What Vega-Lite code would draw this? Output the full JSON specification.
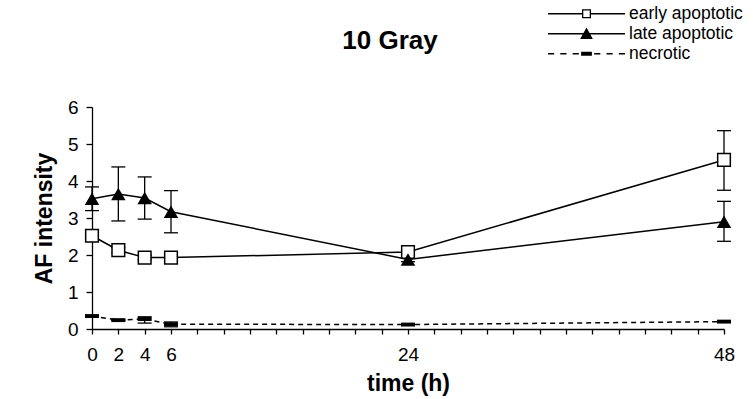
{
  "$schema": "https://vega.github.io/schema/vega-lite/v6.json",
  "width": 632,
  "height": 222,
  "autosize": "none",
  "padding": {"left": 92, "top": 107, "right": 29, "bottom": 70},
  "background": "white",
  "config": {
    "view": {"stroke": null},
    "font": "Liberation Sans",
    "axis": {
      "domainColor": "black",
      "domainWidth": 1.3,
      "tickColor": "black",
      "tickWidth": 1.3,
      "grid": false,
      "labelFont": "Liberation Sans",
      "labelFontSize": 19,
      "labelColor": "black",
      "labelFlush": false,
      "labelOverlap": false,
      "titleFont": "Liberation Sans",
      "titleFontSize": 23,
      "titleFontWeight": "bold",
      "titleColor": "black"
    },
    "axisY": {"tickSize": 6, "labelPadding": 8, "titlePadding": 11},
    "axisX": {"tickSize": 5, "labelPadding": 11, "titlePadding": 8}
  },
  "title": {
    "text": "10 Gray",
    "font": "Liberation Sans",
    "fontSize": 26,
    "fontWeight": "bold",
    "color": "black",
    "anchor": "middle",
    "frame": "group",
    "offset": -50,
    "dx": -18
  },
  "data": {
    "values": [
      {"series": "early apoptotic", "t": 0, "mean": 2.52, "lo": 2.45, "hi": 2.6},
      {"series": "early apoptotic", "t": 2, "mean": 2.13, "lo": 2.06, "hi": 2.2},
      {"series": "early apoptotic", "t": 4, "mean": 1.93, "lo": 1.87, "hi": 2.0},
      {"series": "early apoptotic", "t": 6, "mean": 1.93, "lo": 1.87, "hi": 2.0},
      {"series": "early apoptotic", "t": 24, "mean": 2.08, "lo": 1.98, "hi": 2.18},
      {"series": "early apoptotic", "t": 48, "mean": 4.57, "lo": 3.75, "hi": 5.36},
      {"series": "late apoptotic", "t": 0, "mean": 3.52, "lo": 3.2, "hi": 3.84},
      {"series": "late apoptotic", "t": 2, "mean": 3.65, "lo": 2.92, "hi": 4.38},
      {"series": "late apoptotic", "t": 4, "mean": 3.54, "lo": 2.97, "hi": 4.11},
      {"series": "late apoptotic", "t": 6, "mean": 3.17, "lo": 2.6, "hi": 3.74},
      {"series": "late apoptotic", "t": 24, "mean": 1.88, "lo": 1.82, "hi": 1.94},
      {"series": "late apoptotic", "t": 48, "mean": 2.9, "lo": 2.37, "hi": 3.45},
      {"series": "necrotic", "t": 0, "mean": 0.35, "lo": 0.35, "hi": 0.35},
      {"series": "necrotic", "t": 2, "mean": 0.24, "lo": 0.24, "hi": 0.24},
      {"series": "necrotic", "t": 4, "mean": 0.27, "lo": 0.16, "hi": 0.33},
      {"series": "necrotic", "t": 6, "mean": 0.13, "lo": 0.06, "hi": 0.19},
      {"series": "necrotic", "t": 24, "mean": 0.12, "lo": 0.12, "hi": 0.12},
      {"series": "necrotic", "t": 48, "mean": 0.2, "lo": 0.2, "hi": 0.2}
    ]
  },
  "encoding": {
    "x": {
      "field": "t",
      "type": "quantitative",
      "title": "time (h)",
      "scale": {"domain": [0, 48], "nice": false, "zero": false},
      "axis": {
        "values": [0, 2, 4, 6, 8, 10, 12, 14, 16, 18, 20, 22, 24, 26, 28, 30, 32, 34, 36, 38, 40, 42, 44, 46, 48],
        "labelExpr": "indexof([0, 2, 4, 6, 24, 48], datum.value) >= 0 ? datum.label : ''"
      }
    }
  },
  "layer": [
    {
      "mark": {"type": "rule", "color": "black", "strokeWidth": 1.3},
      "encoding": {
        "y": {"field": "lo", "type": "quantitative", "title": "AF intensity", "scale": {"domain": [0, 6], "nice": false}, "axis": {"values": [0, 1, 2, 3, 4, 5, 6]}},
        "y2": {"field": "hi"}
      }
    },
    {
      "mark": {"type": "tick", "orient": "horizontal", "color": "black", "size": 14, "thickness": 1.3, "opacity": 1},
      "encoding": {
        "y": {"field": "lo", "type": "quantitative", "title": "AF intensity", "axis": {"values": [0, 1, 2, 3, 4, 5, 6]}}
      }
    },
    {
      "mark": {"type": "tick", "orient": "horizontal", "color": "black", "size": 14, "thickness": 1.3, "opacity": 1},
      "encoding": {
        "y": {"field": "hi", "type": "quantitative", "title": "AF intensity", "axis": {"values": [0, 1, 2, 3, 4, 5, 6]}}
      }
    },
    {
      "transform": [{"filter": "datum.series !== 'necrotic'"}],
      "mark": {"type": "line", "color": "black", "strokeWidth": 1.5},
      "encoding": {
        "y": {"field": "mean", "type": "quantitative", "title": "AF intensity", "axis": {"values": [0, 1, 2, 3, 4, 5, 6]}},
        "detail": {"field": "series"}
      }
    },
    {
      "transform": [{"filter": "datum.series === 'necrotic'"}],
      "mark": {"type": "line", "color": "black", "strokeWidth": 1.5, "strokeDash": [5, 4]},
      "encoding": {
        "y": {"field": "mean", "type": "quantitative", "title": "AF intensity", "axis": {"values": [0, 1, 2, 3, 4, 5, 6]}}
      }
    },
    {
      "transform": [{"filter": "datum.series === 'early apoptotic'"}],
      "mark": {"type": "point", "shape": "square", "size": 160, "filled": true, "fill": "white", "stroke": "black", "strokeWidth": 1.5, "opacity": 1},
      "encoding": {
        "y": {"field": "mean", "type": "quantitative", "title": "AF intensity", "axis": {"values": [0, 1, 2, 3, 4, 5, 6]}}
      }
    },
    {
      "transform": [{"filter": "datum.series === 'late apoptotic'"}],
      "mark": {"type": "point", "shape": "triangle-up", "size": 210, "filled": true, "color": "black", "opacity": 1},
      "encoding": {
        "y": {"field": "mean", "type": "quantitative", "title": "AF intensity", "axis": {"values": [0, 1, 2, 3, 4, 5, 6]}}
      }
    },
    {
      "transform": [{"filter": "datum.series === 'necrotic'"}],
      "mark": {"type": "point", "shape": "M-1,-0.28L1,-0.28L1,0.28L-1,0.28Z", "size": 196, "filled": true, "color": "black", "opacity": 1},
      "encoding": {
        "y": {"field": "mean", "type": "quantitative", "title": "AF intensity", "axis": {"values": [0, 1, 2, 3, 4, 5, 6]}}
      }
    },
    {
      "transform": [{"filter": "false"}],
      "mark": {"type": "point", "filled": true, "color": "black", "opacity": 1},
      "encoding": {
        "y": {"field": "mean", "type": "quantitative", "title": "AF intensity", "axis": {"values": [0, 1, 2, 3, 4, 5, 6]}},
        "shape": {
          "field": "series",
          "type": "nominal",
          "scale": {
            "domain": ["early apoptotic", "late apoptotic", "necrotic"],
            "range": [
              "M-1,-0.017L-0.117,-0.017L-0.117,0.017L-1,0.017ZM0.117,-0.017L1,-0.017L1,0.017L0.117,0.017ZM-0.117,-0.117L0.117,-0.117L0.117,0.117L-0.117,0.117ZM-0.083,-0.083L-0.083,0.083L0.083,0.083L0.083,-0.083Z",
              "M-1,-0.017L1,-0.017L1,0.017L-1,0.017ZM0,-0.165L0.165,0.135L-0.165,0.135Z",
              "M-1,-0.02L-0.84,-0.02L-0.84,0.02L-1,0.02ZM-0.68,-0.02L-0.52,-0.02L-0.52,0.02L-0.68,0.02ZM-0.36,-0.02L-0.2,-0.02L-0.2,0.02L-0.36,0.02ZM-0.14,-0.05L0.14,-0.05L0.14,0.05L-0.14,0.05ZM0.2,-0.02L0.36,-0.02L0.36,0.02L0.2,0.02ZM0.52,-0.02L0.68,-0.02L0.68,0.02L0.52,0.02ZM0.84,-0.02L1,-0.02L1,0.02L0.84,0.02Z"
            ]
          },
          "legend": {
            "title": null,
            "orient": "none",
            "legendX": 456,
            "legendY": -103,
            "padding": 0,
            "symbolSize": 5929,
            "symbolStrokeWidth": 0,
            "symbolFillColor": "black",
            "symbolOpacity": 1,
            "clipHeight": 19.5,
            "rowPadding": 0,
            "labelFont": "Liberation Sans",
            "labelFontSize": 17.5,
            "labelColor": "black",
            "labelOffset": 4,
            "encode": {
              "symbols": {
                "update": {
                  "fill": {"value": "black"},
                  "opacity": {"value": 1}
                }
              }
            }
          }
        }
      }
    }
  ]
}
